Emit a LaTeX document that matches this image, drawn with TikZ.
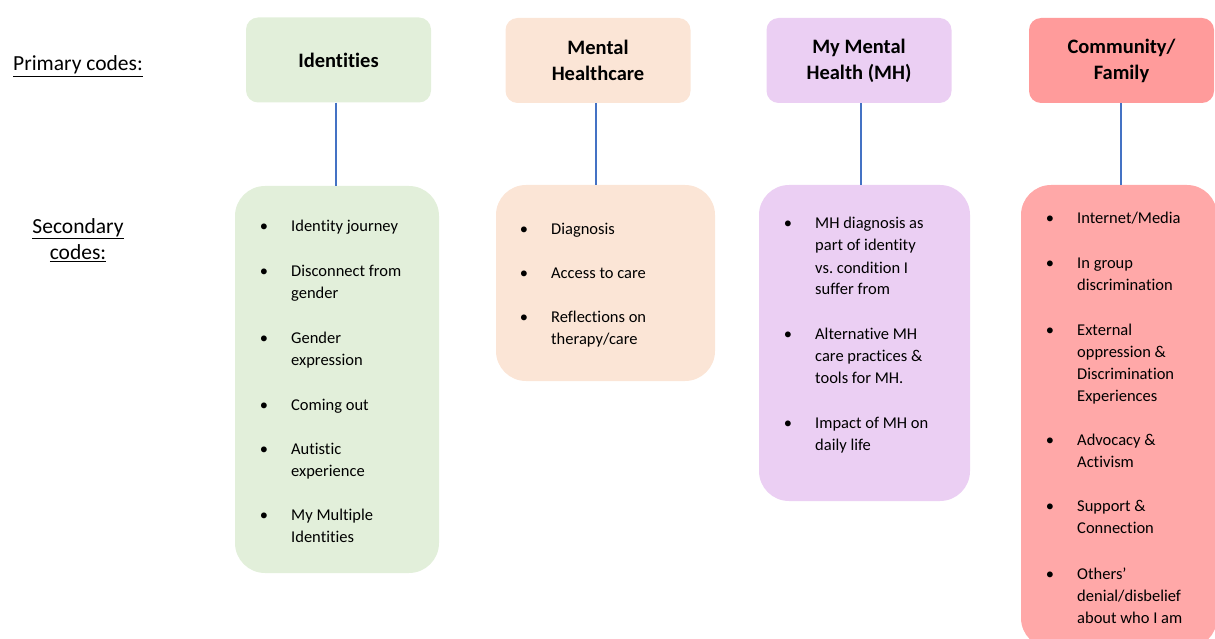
\documentclass[tikz,border=0pt]{standalone}
\usepackage{fontspec}
\setmainfont{Carlito}[Ligatures={NoCommon}]
\definecolor{gfill}{HTML}{E2EFDA}
\definecolor{pfill}{HTML}{FBE5D6}
\definecolor{lfill}{HTML}{EBCFF3}
\definecolor{rtop}{HTML}{FF9B9B}
\definecolor{rsec}{HTML}{FFA8A8}
\definecolor{linkc}{HTML}{4472C4}
\newcommand\mylines[1]{\begin{tabular}[t]{@{}l@{}}\llap{\textbullet\hspace{23pt}}#1\end{tabular}}
\begin{document}
\begin{tikzpicture}[x=1pt,y=-1pt,
 prim/.style={rounded corners=12pt, minimum width=185pt, minimum height=85pt, align=center, font=\bfseries\fontsize{20.5}{26}\selectfont, inner sep=0pt},
 sec/.style={rounded corners=30pt, inner sep=0pt},
 itm/.style={anchor=base west, inner sep=0pt, font=\fontsize{16.5}{22}\selectfont},
 lab/.style={align=center, font=\fontsize{21.5}{26}\selectfont, inner sep=0pt},
 conn/.style={draw=linkc, line width=2pt}]
\useasboundingbox (0,0) rectangle (1215,639);
\clip (0,0) rectangle (1215,639);
% labels
\node[lab, anchor=base west] (lp) at (13,71) {\underline{Primary codes:}};
\node[lab] (ls) at (78,240) {\underline{Secondary}\\\underline{codes:}};
% primary
\node[prim, fill=gfill] (p1) at (338.5,60) {Identities};
\node[prim, fill=pfill] (p2) at (598,60.5) {Mental\\Healthcare};
\node[prim, fill=lfill] (p3) at (859,60.5) {My Mental\\Health (MH)};
\node[prim, fill=rtop] (p4) at (1121.5,60.5) {Community/\\Family};
% secondary
\node[sec, fill=gfill, minimum width=204pt, minimum height=387pt] (s1) at (337,379.5) {};
\node[sec, fill=pfill, minimum width=219pt, minimum height=196pt] (s2) at (605.5,283) {};
\node[sec, fill=lfill, minimum width=211pt, minimum height=316pt] (s3) at (864.5,343) {};
\node[sec, fill=rsec, minimum width=196pt, minimum height=463pt] (s4) at (1119,416.5) {};
% connectors
\draw[conn] (p1.south) ++(-2.5,0) coordinate (c1) -- (c1 |- s1.north);
\draw[conn] (p2.south) ++(-2,0) coordinate (c2) -- (c2 |- s2.north);
\draw[conn] (p3.south) ++(2,0) coordinate (c3) -- (c3 |- s3.north);
\draw[conn] (p4.south) ++(-0.5,0) coordinate (c4) -- (c4 |- s4.north);
% identities items
\node[itm] (a1) at (291,232) {\mylines{Identity journey}};
\node[itm] (a2) at (291,276) {\mylines{Disconnect from\\gender}};
\node[itm] (a3) at (291,343) {\mylines{Gender\\expression}};
\node[itm] (a4) at (291,410) {\mylines{Coming out}};
\node[itm] (a5) at (291,454) {\mylines{Autistic\\experience}};
\node[itm] (a6) at (291,520) {\mylines{My Multiple\\Identities}};
% mental healthcare items
\node[itm] (b1) at (551,234) {\mylines{Diagnosis}};
\node[itm] (b2) at (551,278) {\mylines{Access to care}};
\node[itm] (b3) at (551,322) {\mylines{Reflections on\\therapy/care}};
% my MH items
\node[itm] (d1) at (815,229) {\mylines{MH diagnosis as\\part of identity\\vs.\ condition I\\suffer from}};
\node[itm] (d2) at (815,339) {\mylines{Alternative MH\\care practices \&\\tools for MH.}};
\node[itm] (d3) at (815,428) {\mylines{Impact of MH on\\daily life}};
% community items
\node[itm] (e1) at (1077,223) {\mylines{Internet/Media}};
\node[itm] (e2) at (1077,268) {\mylines{In group\\discrimination}};
\node[itm] (e3) at (1077,335) {\mylines{External\\oppression \&\\Discrimination\\Experiences}};
\node[itm] (e4) at (1077,445) {\mylines{Advocacy \&\\Activism}};
\node[itm] (e5) at (1077,511) {\mylines{Support \&\\Connection}};
\node[itm] (e6) at (1077,579) {\mylines{Others’\\denial/disbelief\\about who I am}};
\end{tikzpicture}
\end{document}
